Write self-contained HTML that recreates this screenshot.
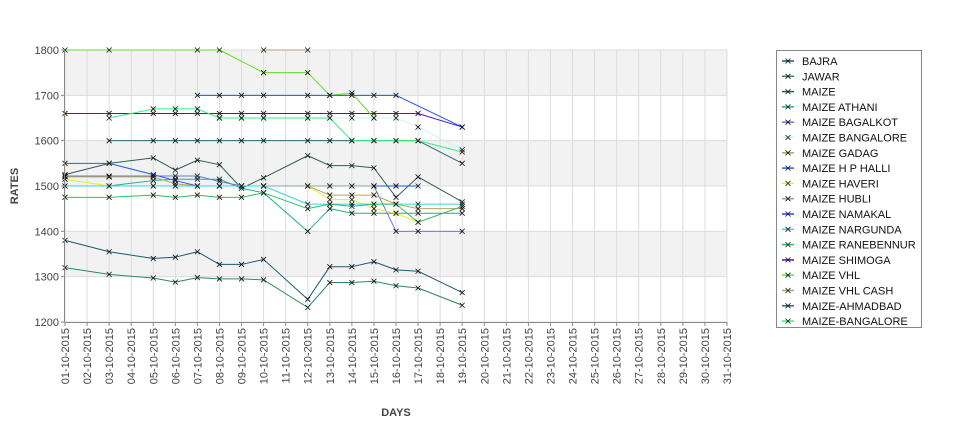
<!DOCTYPE html>
<html><head><meta charset="utf-8"><style>
body{margin:0;background:#fff;font-family:"Liberation Sans",sans-serif}
svg text{font-family:"Liberation Sans",sans-serif}
</style></head><body>
<svg id="chart" width="975" height="429" xmlns="http://www.w3.org/2000/svg">
<g id="bg"></g><g id="grid"></g><g id="series"></g><g id="axes"></g><g id="legend"></g>
</svg>
<script>
const categories = [];
for (let d = 1; d <= 31; d++) categories.push(String(d).padStart(2,'0') + '-10-2015');
const dataDays = [1,3,5,6,7,8,9,10,12,13,14,15,16,17,19];
const yTicks = [1200,1300,1400,1500,1600,1700,1800];
const seriesNames = ["BAJRA","JAWAR","MAIZE","MAIZE ATHANI","MAIZE BAGALKOT","MAIZE BANGALORE","MAIZE GADAG","MAIZE H P HALLI","MAIZE HAVERI","MAIZE HUBLI","MAIZE NAMAKAL","MAIZE NARGUNDA","MAIZE RANEBENNUR","MAIZE SHIMOGA","MAIZE VHL","MAIZE VHL CASH","MAIZE-AHMADBAD","MAIZE-BANGALORE"];
const seriesColors = ["#1a5a6e","#2e8b57","#2f5f4f","#1fae8c","#6a78d8","#c8f5ec","#b0a860","#2060e8","#e8f020","#80a898","#1e50f0","#30d8e0","#30c060","#5010d0","#60e020","#b8a070","#2a6878","#30f080"];
const vBajra = [1380,1355,1340,1343,1355,1327,1327,1338,1250,1322,1322,1333,1315,1312,1265];
const vJawar = [1320,1305,1297,1288,1298,1295,1295,1293,1232,1287,1287,1290,1280,1275,1237];
const vMaize = [1525,1550,1562,1535,1557,1547,1495,1518,1567,1545,1545,1540,1475,1520,1465];
const vAthani = [1500,1500,1512,1515,1515,1515,1495,1485,1400,1450,1440,1440,1440,1440,1440];
const vBagalkot = [1522,1522,1522,1522,1522,1510,1500,1500,1500,1500,1500,1500,1400,1400,1400];
const vBangalore = [null,null,null,null,null,1650,1650,1650,1650,1650,1650,1650,1650,1630,1580];
const vGadag = [1520,1520,1520,1505,1500,1500,1500,1500,1500,1480,1480,1480,1460,1450,1450];
const vHpHalli = [1550,1550,1525,1512,1500,1500,1500,1500,null,null,null,null,null,null,null];
const vHaveri = [1515,1500,1500,1500,1500,1500,1500,1500,1500,1470,1470,1450,1440,1420,null];
const vHubli = [null,null,null,null,null,null,1500,1500,1500,1500,1500,1500,1500,null,null];
const vNamakal = [null,null,null,null,null,null,null,null,null,null,null,1500,1500,1500,null];
const vNargunda = [1500,1500,1500,1500,1500,1500,1500,1500,1460,1460,1460,1460,1460,1460,1460];
const vRanebennur = [1475,1475,1480,1475,1480,1475,1475,1485,1450,1460,1455,1460,1460,1420,1455];
const vShimoga = [1660,1660,1660,1660,1660,1660,1660,1660,1660,1660,1660,1660,1660,1660,1630];
const vVhl = [1800,1800,null,null,1800,1800,null,1750,1750,1700,1705,1650,null,null,null];
const vVhlCash = [null,null,null,null,null,null,null,1800,1800,null,null,null,null,null,null];
const vAhmadbad = [null,1600,1600,1600,1600,1600,1600,1600,1600,1600,1600,1600,1600,1600,1550];
const vMBangalore = [null,1650,1670,1670,1670,1650,1650,1650,1650,1650,1600,1600,1600,1600,1575];
const vNamakalBlue = [null,null,null,null,1700,1700,1700,1700,1700,1700,1700,1700,1700,null,1630];
const seriesValues = [vBajra,vJawar,vMaize,vAthani,vBagalkot,vBangalore,vGadag,vHpHalli,vHaveri,vHubli,vNamakal,vNargunda,vRanebennur,vShimoga,vVhl,vVhlCash,vAhmadbad,vMBangalore];

const NS = "http://www.w3.org/2000/svg";
const X0 = 65, X1 = 727, Y0 = 50, Y1 = 322;
function xScale(i){ return X0 + (X1 - X0) * i / (categories.length - 1); }
function yScale(v){ return Y1 - (v - 1200) / 600 * (Y1 - Y0); }
function mk(tag, attrs, parent){ const e = document.createElementNS(NS, tag); for (const k in attrs) e.setAttribute(k, attrs[k]); parent.appendChild(e); return e; }

const bg = document.getElementById('bg');
for (let t = 0; t < yTicks.length - 1; t++) {
  if (t % 2 === 0) continue;
  const r = mk('rect', {x:X0, y:yScale(yTicks[t+1]), width:X1-X0, height:yScale(yTicks[t])-yScale(yTicks[t+1]), fill:'#f2f2f2'}, bg);
  
  
}
const grid = document.getElementById('grid');
categories.forEach((c, i) => {
  const l = mk('line', {x1:xScale(i), x2:xScale(i), y1:Y0, y2:Y1, stroke:'#dcdcdc', 'stroke-width':1}, grid);
  
  
});
yTicks.forEach(v => {
  const l = mk('line', {x1:X0, x2:X1, y1:yScale(v), y2:yScale(v), stroke:'#dcdcdc', 'stroke-width':1}, grid);
  
  
});

const sg = document.getElementById('series');
function drawSeries(vals, color, name){
  const g = mk('g', {}, sg);
  
  
  let prev = null;
  vals.forEach((v, k) => {
    if (v === null) { return; }
    const x = xScale(dataDays[k] - 1), y = yScale(v);
    if (prev) mk('line', {x1:prev[0], y1:prev[1], x2:x, y2:y, stroke:color, 'stroke-width':1}, g);
    prev = [x, y];
  });
  vals.forEach((v, k) => {
    if (v === null) return;
    const x = xScale(dataDays[k] - 1), y = yScale(v);
    const p = mk('path', {d:`M${x-2.5},${y-2.5}L${x+2.5},${y+2.5}M${x-2.5},${y+2.5}L${x+2.5},${y-2.5}`, stroke:'#111', 'stroke-width':0.8}, g);
    
    
  });
}
seriesValues.forEach((vals, i) => drawSeries(vals, seriesColors[i], seriesNames[i]));
drawSeries(vNamakalBlue, '#2050f0', 'maize-namakal-upper');

const ax = document.getElementById('axes');
mk('line', {x1:X0-0.5, x2:X0-0.5, y1:Y0, y2:Y1, stroke:'#888'}, ax);
mk('line', {x1:X0, x2:X1, y1:Y1+0.5, y2:Y1+0.5, stroke:'#888'}, ax);
yTicks.forEach(v => {
  mk('line', {x1:X0-4, x2:X0, y1:yScale(v), y2:yScale(v), stroke:'#888'}, ax);
  const t = mk('text', {x:X0-6, y:yScale(v)+4, 'text-anchor':'end', 'font-size':11, fill:'#444'}, ax);
  t.textContent = v;
  
  
});
categories.forEach((c, i) => {
  const x = xScale(i);
  mk('line', {x1:x, x2:x, y1:Y1, y2:Y1+4, stroke:'#888'}, ax);
  const t = mk('text', {x:0, y:0, 'text-anchor':'end', 'font-size':11, fill:'#444', transform:`translate(${x+4},${Y1+6}) rotate(-90)`}, ax);
  t.textContent = c;
  
  
});
const yt = mk('text', {x:0, y:0, 'text-anchor':'middle', 'font-size':11, 'font-weight':'bold', fill:'#444', transform:'translate(18,186) rotate(-90)'}, ax);
yt.textContent = 'RATES';


const xt = mk('text', {x:396, y:416, 'text-anchor':'middle', 'font-size':11, 'font-weight':'bold', fill:'#444'}, ax);
xt.textContent = 'DAYS';



const lg = document.getElementById('legend');
const box = mk('rect', {x:776.5, y:50.5, width:145, height:277, fill:'#fff', stroke:'#888'}, lg);


seriesNames.forEach((n, i) => {
  const y = 61 + i * 15.3;
  const g = mk('g', {}, lg);
  
  
  mk('line', {x1:782, x2:794, y1:y, y2:y, stroke:seriesColors[i], 'stroke-width':1.5}, g);
  mk('path', {d:`M785.5,${y-2.5}L790.5,${y+2.5}M785.5,${y+2.5}L790.5,${y-2.5}`, stroke:'#111', 'stroke-width':0.8}, g);
  const t = mk('text', {x:802, y:y+4, 'font-size':11, fill:'#111'}, g);
  t.textContent = n;
});
</script>
</body></html>
